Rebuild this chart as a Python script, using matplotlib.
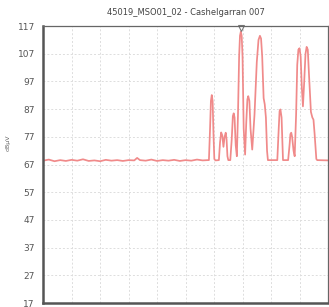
import matplotlib
matplotlib.use("Agg")
import matplotlib.pyplot as plt
import numpy as np

# chart text
title = "45019_MSO01_02 - Cashelgarran 007"
y_label = "dBµV"
y_ticks = [17, 27, 37, 47, 57, 67, 77, 87, 97, 107, 117]

# baseline noise (x in grid divisions, 0..10)
noise_x = [0.0, 0.2, 0.4, 0.6, 0.8, 1.0, 1.2, 1.4, 1.6, 1.8, 2.0, 2.2, 2.4,
           2.6, 2.8, 3.0, 3.2, 3.3, 3.4, 3.6, 3.8, 4.0, 4.2, 4.4, 4.6, 4.8,
           5.0, 5.2, 5.4, 5.6, 5.78]
noise_y = [68.4, 68.8, 68.2, 68.6, 68.3, 68.7, 68.4, 68.9, 68.3, 68.5, 68.2,
           68.7, 68.4, 68.6, 68.3, 68.6, 68.5, 69.4, 68.6, 68.4, 68.8, 68.3,
           68.6, 68.4, 68.7, 68.3, 68.6, 68.4, 68.8, 68.5, 68.6]

# peak region vertices
peak_x = [5.82, 5.86, 5.89, 5.92, 5.95, 5.98, 6.01, 6.05, 6.17, 6.21, 6.25,
          6.29, 6.33, 6.37, 6.41, 6.44, 6.47, 6.50, 6.57, 6.62, 6.66, 6.69,
          6.72, 6.76, 6.80, 6.84, 6.88, 6.91, 6.94, 6.97, 7.00, 7.04, 7.09,
          7.13, 7.17, 7.20, 7.24, 7.28, 7.34, 7.42, 7.50, 7.56, 7.61, 7.65,
          7.69, 7.74, 7.78, 7.82, 7.86, 7.89, 8.22, 8.27, 8.30, 8.33, 8.37,
          8.42, 8.60, 8.65, 8.68, 8.71, 8.74, 8.79, 8.83, 8.88, 8.92, 8.96,
          9.00, 9.04, 9.08, 9.12, 9.16, 9.21, 9.25, 9.29, 9.33, 9.40, 9.45,
          9.49, 9.53, 9.59, 9.62, 10.0]
peak_y = [68.6, 80.0, 90.0, 92.1, 90.0, 78.0, 69.0, 68.5, 68.6, 75.0, 78.6,
          77.5, 73.4, 77.0, 78.5, 76.0, 70.0, 68.6, 68.6, 76.0, 84.5, 85.5,
          84.0, 74.0, 70.0, 85.0, 106.0, 113.5, 115.0, 113.5, 106.0, 80.0,
          70.6, 82.0, 90.5, 91.7, 90.0, 80.0, 72.4, 85.0, 104.0, 112.0,
          113.5, 112.5, 106.0, 91.0, 88.7, 84.0, 72.0, 68.6, 68.6, 80.0,
          86.3, 86.9, 84.0, 68.6, 68.6, 74.0, 78.0, 78.5, 77.0, 72.0, 70.0,
          85.0, 103.0, 108.5, 109.0, 106.0, 95.0, 88.0, 96.0, 107.0, 109.5,
          108.5, 100.0, 86.0, 84.0, 83.2, 78.0, 69.0, 68.6, 68.5]

marker_x = 6.94
marker_y = 116.3

fig = plt.figure(figsize=(3.29, 3.07), dpi=100)
ax = fig.add_axes([0.131, 0.013, 0.866, 0.902])

ax.plot(noise_x + peak_x, noise_y + peak_y, color="#f08a8a", lw=1.25)
ax.plot([marker_x], [marker_y], marker="v", ms=4, mfc="none",
        mec="#777777", mew=0.8, clip_on=False)

ax.set_xlim(0, 10)
ax.set_ylim(17, 117)
ax.set_yticks(y_ticks)
ax.set_xticks(np.arange(0, 11, 1))
ax.set_xticklabels([])
ax.tick_params(axis="y", labelsize=6.5, colors="#555555", length=0, pad=6)
ax.tick_params(axis="x", length=0)
ax.grid(True, color="#dddddd", ls=(0, (2, 2)), lw=0.7)

for side in ["left", "bottom"]:
    ax.spines[side].set_color("#555555")
    ax.spines[side].set_linewidth(1.8)
for side in ["top", "right"]:
    ax.spines[side].set_color("#666666")
    ax.spines[side].set_linewidth(0.9)

ax.set_title(title, fontsize=6, color="#444444", pad=8)
fig.text(0.025, 0.535, y_label, rotation=90, fontsize=4.5, color="#666666",
         ha="center", va="center")

fig.savefig("out.png", dpi=100)
